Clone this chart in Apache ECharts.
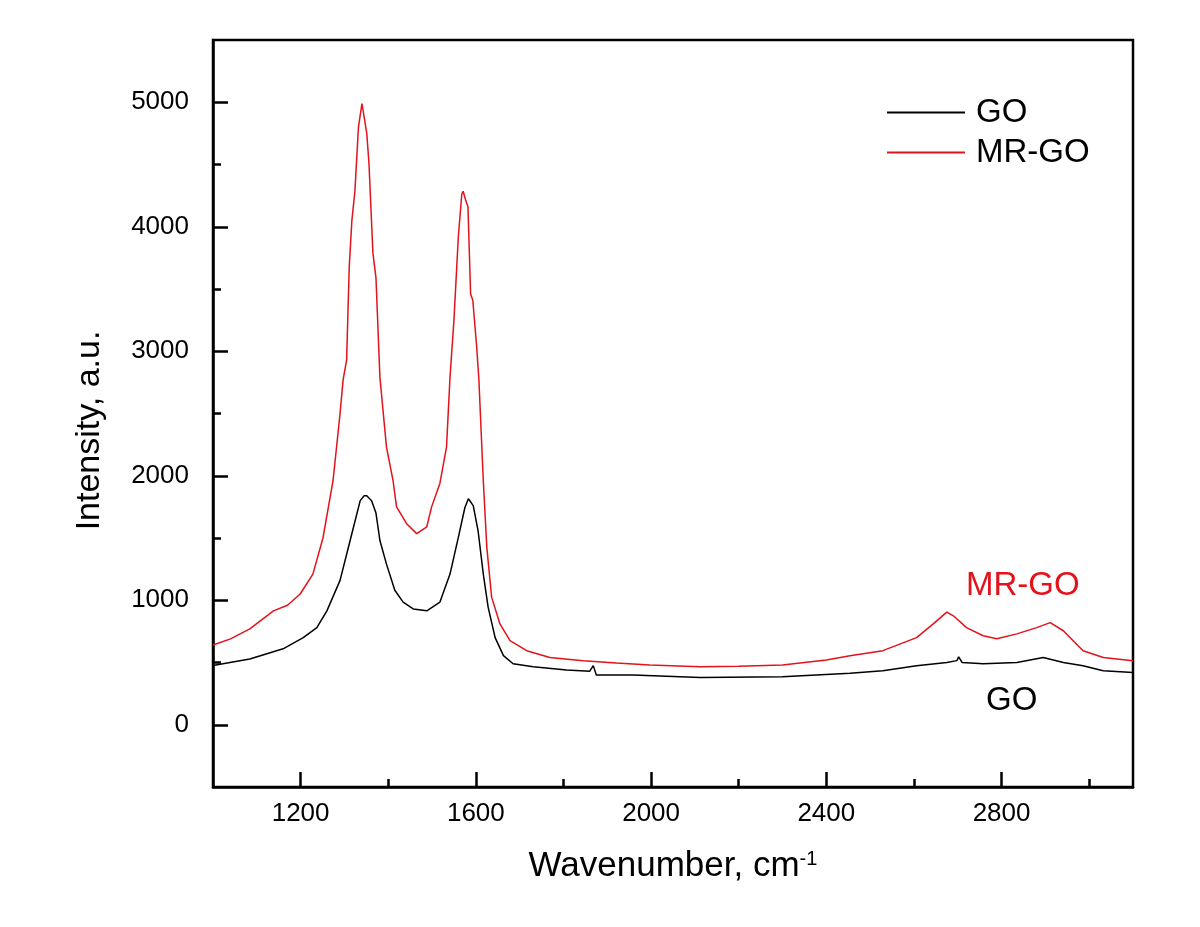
<!DOCTYPE html>
<html><head><meta charset="utf-8">
<script src="https://cdn.jsdelivr.net/npm/echarts@6/dist/echarts.min.js"></script>
<style>html,body{margin:0;padding:0;background:#fff}#c{width:1200px;height:927px}</style>
</head><body><div id="c"></div>
<script>
// ---- data ----
const goX = [1000,1084,1160,1206,1237,1260,1290,1313,1336,1345,1351,1362,1372,1381,1396,1415,1434,1457,1488,1518,1541,1560,1575,1583,1594,1605,1617,1628,1644,1663,1685,1731,1807,1860,1868,1875,1959,2112,2300,2454,2529,2606,2675,2698,2702,2710,2758,2835,2895,2941,2986,3032,3100];
const goY = [475,528,610,700,780,915,1160,1480,1800,1840,1840,1800,1700,1480,1290,1080,985,930,915,985,1210,1505,1745,1815,1760,1560,1210,945,700,555,490,465,440,430,475,400,400,380,385,413,434,474,500,515,545,500,490,500,540,500,474,434,420];
const mrX = [1000,1040,1084,1138,1170,1199,1228,1251,1274,1290,1297,1305,1311,1317,1324,1332,1340,1351,1356,1365,1372,1381,1396,1411,1419,1442,1465,1488,1499,1518,1533,1541,1550,1560,1568,1571,1577,1582,1588,1593,1602,1607,1617,1625,1636,1655,1678,1716,1769,1845,1921,1997,2112,2200,2300,2400,2454,2529,2606,2644,2675,2690,2720,2758,2789,2835,2880,2911,2941,2986,3032,3100];
const mrY = [640,690,770,915,960,1050,1210,1500,1960,2500,2770,2930,3680,4050,4290,4800,4990,4750,4510,3790,3590,2790,2230,1960,1750,1615,1535,1590,1750,1940,2230,2790,3250,3920,4265,4285,4210,4160,3460,3410,3030,2765,1960,1425,1025,810,675,595,540,515,495,480,465,470,480,520,555,595,700,810,905,875,780,715,690,730,780,820,755,595,540,515];
const xMajor = [1200,1600,2000,2400,2800];
const xMinor = [1400,1800,2200,2600,3000];
const yMajor = [0,1000,2000,3000,4000,5000];
const yMinor = [500,1500,2500,3500,4500];
const seriesNames = ['GO','MR-GO'];

const FONT = '"Liberation Sans", Arial, sans-serif';
const zip = (a,b) => a.map((v,i)=>[v,b[i]]);
const plain = v => String(v);
const chart = echarts.init(document.getElementById('c'), null, {renderer:'canvas'});
const grid = {left:213, right:67, top:40, bottom:140, show:true, borderColor:'#000', borderWidth:2.5, backgroundColor:'transparent'};
const baseX = {type:'value', min:1000, max:3100, interval:200, splitLine:{show:false}};
const baseY = {type:'value', min:-500, max:5500, interval:500, splitLine:{show:false}};
chart.setOption({
  backgroundColor:'#fff',
  animation:false,
  grid: grid,
  legend: {
    orient:'vertical', left:882, top:91, itemWidth:78, itemHeight:2, itemGap:7,
    icon:'rect',
    data: seriesNames,
    textStyle:{fontFamily:FONT, fontSize:33, color:'#000', lineHeight:33, padding:[0,0,0,6]}
  },
  xAxis: [
    Object.assign({}, baseX, {
      position:'bottom',
      axisLine:{show:true, onZero:false, lineStyle:{color:'#000', width:2.5}},
      axisTick:{show:true, inside:true, length:15, customValues:xMajor, lineStyle:{color:'#000', width:2.5}},
      axisLabel:{show:true, customValues:xMajor, formatter:plain, margin:14, fontFamily:FONT, fontSize:26, color:'#000'},
      name:'Wavenumber, cm{sup|-1}', nameLocation:'middle', nameGap:62,
      nameTextStyle:{fontFamily:FONT, fontSize:35, color:'#000',
        rich:{sup:{fontFamily:FONT, fontSize:20, color:'#000', verticalAlign:'top', padding:[0,0,15,0]}}}
    }),
    Object.assign({}, baseX, {
      position:'bottom',
      axisLine:{show:false, onZero:false},
      axisTick:{show:true, inside:true, length:8, customValues:xMinor, lineStyle:{color:'#000', width:2.5}},
      axisLabel:{show:false}
    })
  ],
  yAxis: [
    Object.assign({}, baseY, {
      position:'left',
      axisLine:{show:true, onZero:false, lineStyle:{color:'#000', width:2.5}},
      axisTick:{show:true, inside:true, length:15, customValues:yMajor, lineStyle:{color:'#000', width:2.5}},
      axisLabel:{show:true, customValues:yMajor, formatter:plain, margin:24, fontFamily:FONT, fontSize:26, color:'#000'},
      name:'Intensity, a.u.', nameLocation:'middle', nameGap:106,
      nameTextStyle:{fontFamily:FONT, fontSize:34, color:'#000', padding:[0,34,0,0]}
    }),
    Object.assign({}, baseY, {
      position:'left',
      axisLine:{show:false, onZero:false},
      axisTick:{show:true, inside:true, length:8, customValues:yMinor, lineStyle:{color:'#000', width:2.5}},
      axisLabel:{show:false}
    })
  ],
  series: [
    {name:seriesNames[0], type:'line', data:zip(goX,goY), showSymbol:false, symbol:'none',
     lineStyle:{color:'#000', width:1.5}, itemStyle:{color:'#000'}, z:3},
    {name:seriesNames[1], type:'line', data:zip(mrX,mrY), showSymbol:false, symbol:'none',
     lineStyle:{color:'#e3121b', width:1.5}, itemStyle:{color:'#e3121b'}, z:2}
  ],
  graphic: [
    {type:'text', left:966, top:569, style:{text:'MR-GO', fill:'#e3121b', font:'33px '+FONT}},
    {type:'text', left:986, top:684, style:{text:'GO', fill:'#000', font:'33px '+FONT}}
  ]
});
</script>
</body></html>
